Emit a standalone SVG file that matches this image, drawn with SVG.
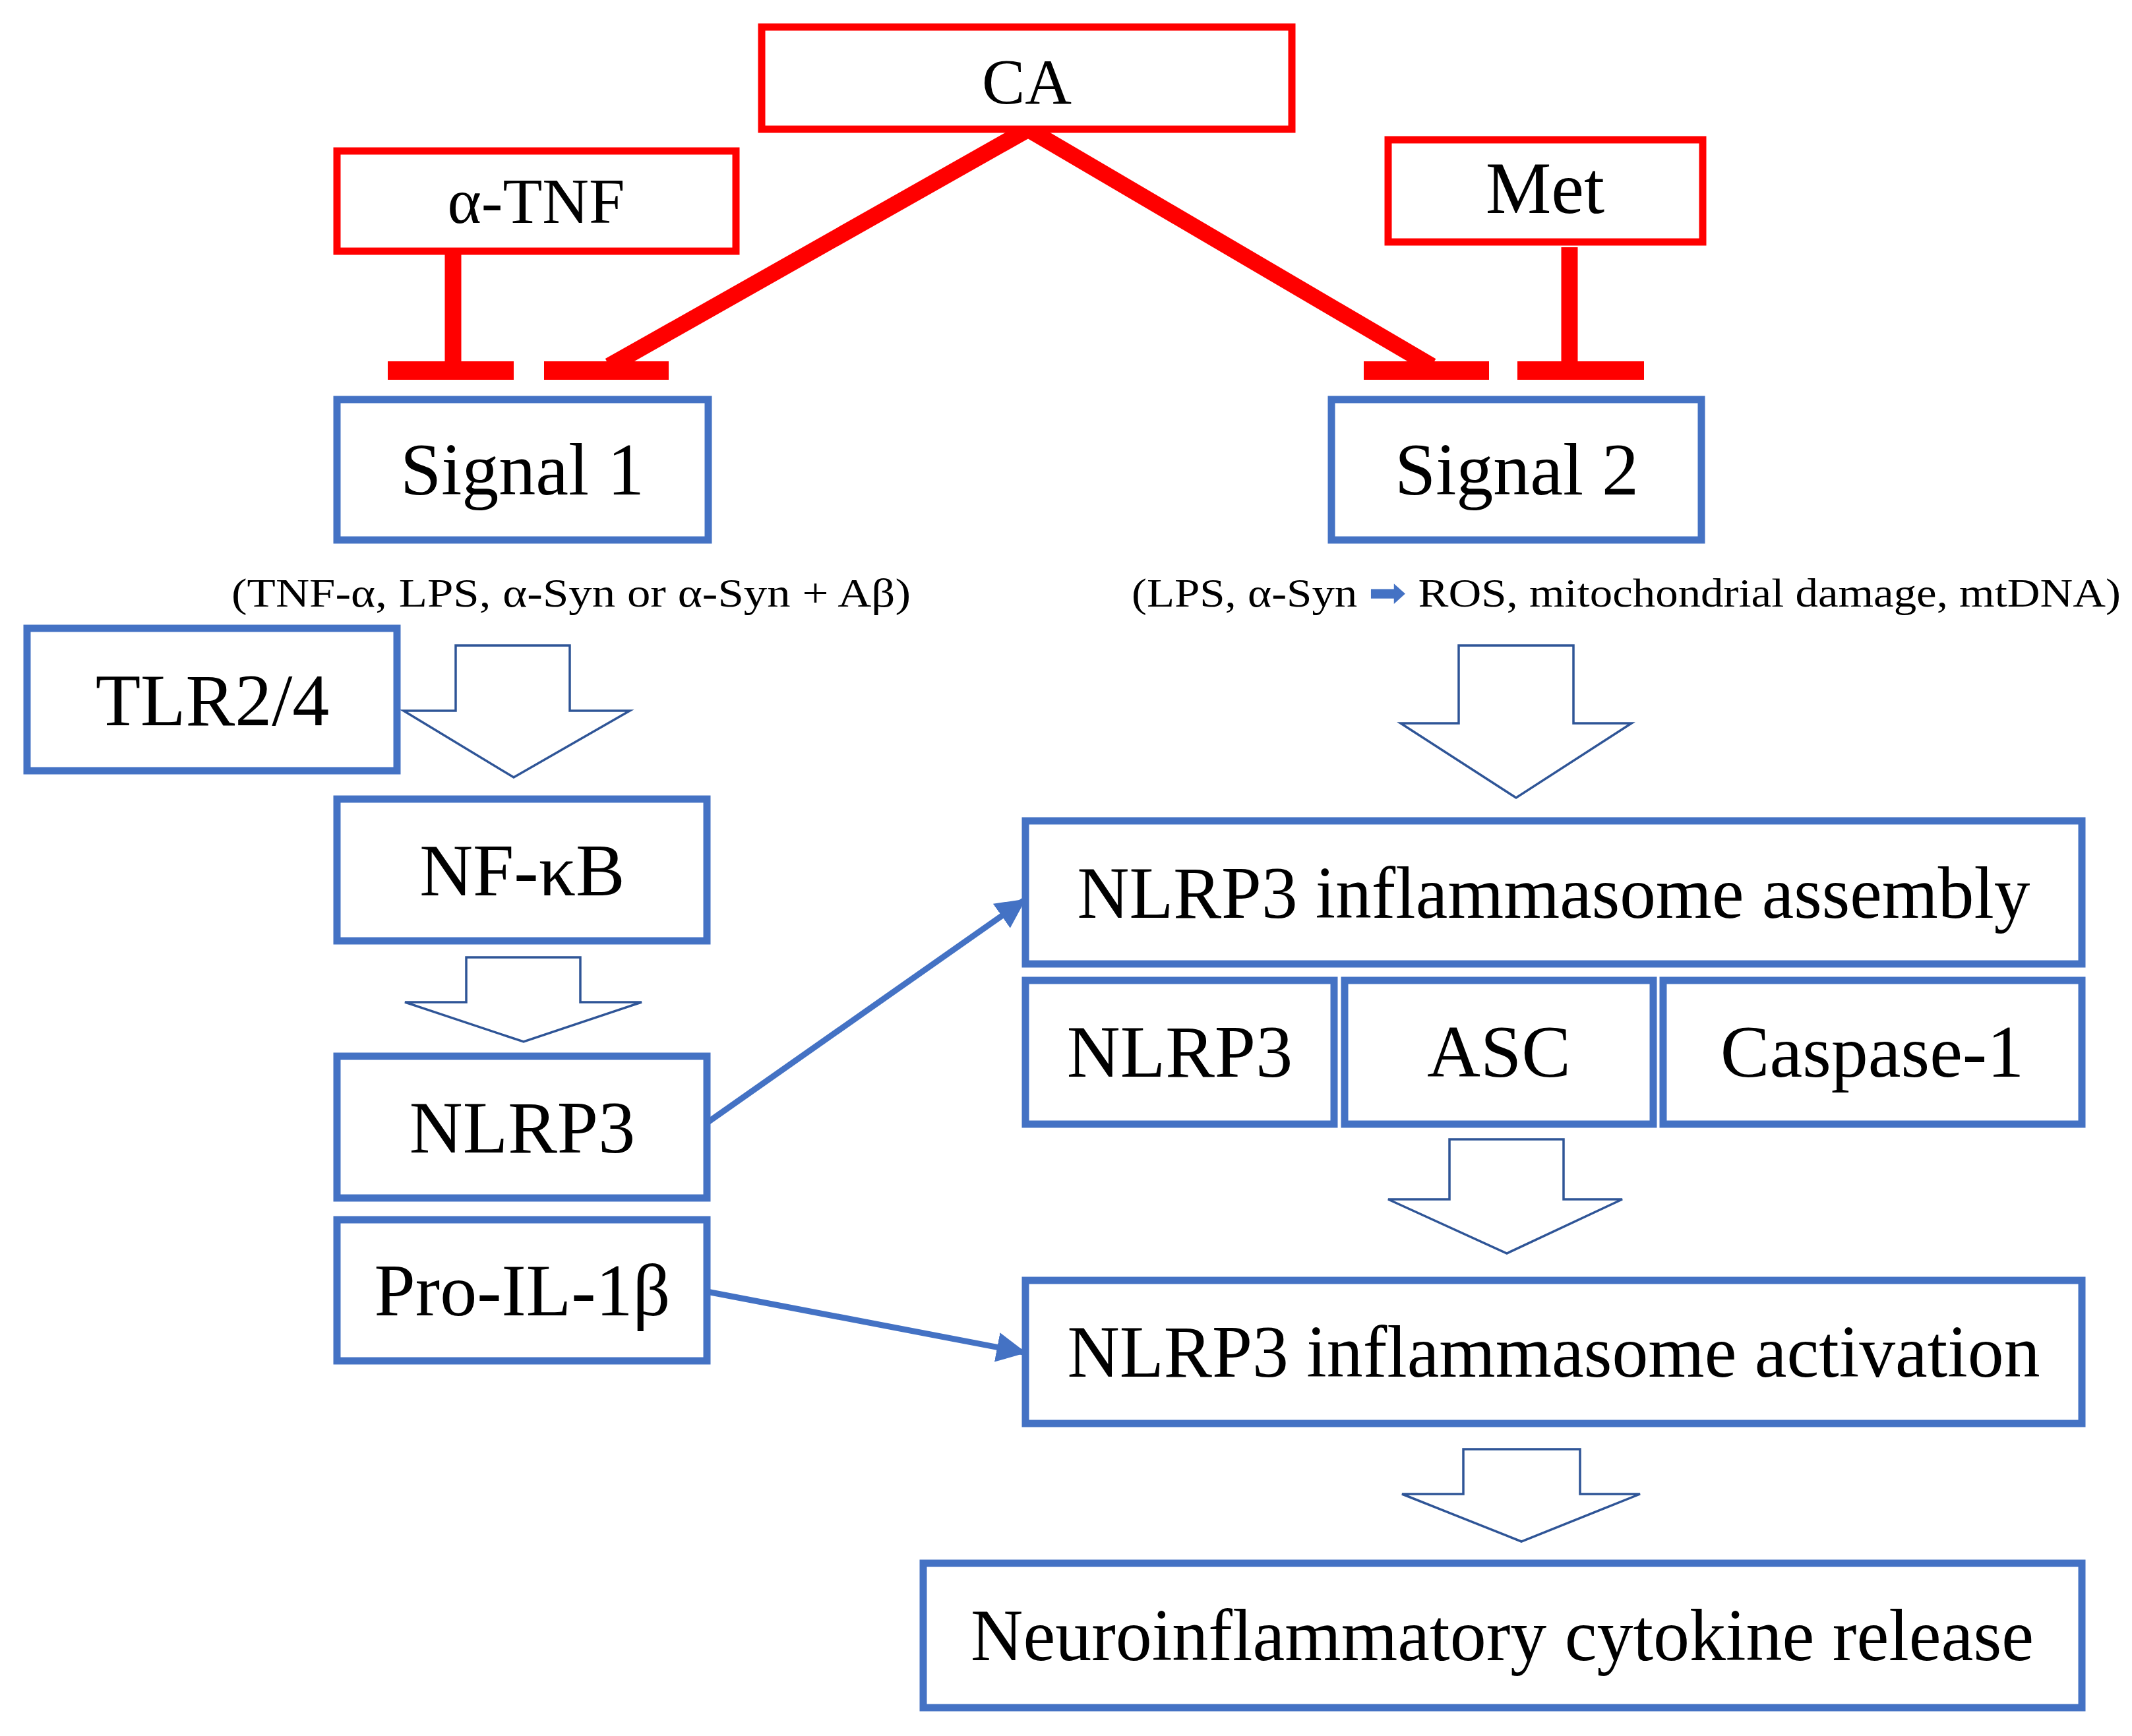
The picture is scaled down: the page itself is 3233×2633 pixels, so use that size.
<svg xmlns="http://www.w3.org/2000/svg" width="3233" height="2633" viewBox="0 0 3233 2633">
<style>
text{font-family:"Liberation Serif","Times New Roman",serif;fill:#000;text-anchor:middle}
.r{fill:#fff;stroke:#FF0000;stroke-width:11}
.b{fill:#fff;stroke:#4472C4;stroke-width:11}
.h{fill:#fff;stroke:#2F5597;stroke-width:3.5}
.big{font-size:112px}
.sub{font-size:62px}
</style>
<defs>
<marker id="ah" viewBox="0 0 10 10" refX="9" refY="5" markerWidth="5" markerHeight="5" orient="auto" markerUnits="strokeWidth"><path d="M0,0L10,5L0,10z" fill="#4472C4"/></marker>
</defs>
<rect width="3233" height="2633" fill="#fff"/>
<g id="connectors">
<g stroke="#FF0000" stroke-width="25" fill="none">
<line x1="687" y1="381" x2="687" y2="560"/>
<line x1="2380" y1="375" x2="2380" y2="560"/>
<line x1="1559" y1="196" x2="924" y2="555"/>
<line x1="1559" y1="196" x2="2171" y2="555"/>
</g>
<g fill="#FF0000">
<rect x="588" y="548" width="191" height="28"/>
<rect x="825" y="548" width="189" height="28"/>
<rect x="2068" y="548" width="190" height="28"/>
<rect x="2301" y="548" width="192" height="28"/>
</g>
<g stroke="#4472C4" stroke-width="9" fill="none" marker-end="url(#ah)">
<line x1="1072" y1="1703" x2="1552" y2="1366"/>
<line x1="1072" y1="1959" x2="1552" y2="2051"/>
</g>
<path class="h" d="M691,979H864V1078H955L779,1179L612,1078H691Z"/>
<path class="h" d="M707,1452H880V1520H973L794,1580L614,1520H707Z"/>
<path class="h" d="M2212,979H2386V1097H2474L2299,1210L2124,1097H2212Z"/>
<path class="h" d="M2198,1728H2371V1819H2460L2285,1901L2105,1819H2198Z"/>
<path class="h" d="M2219,2198H2396V2266H2487L2307,2338L2126,2266H2219Z"/>
</g>
<g id="ca"><rect class="r" x="1155" y="41" width="804" height="155"/><text x="1557" y="157" font-size="98">CA</text></g>
<g id="atnf"><rect class="r" x="511" y="229" width="605" height="152"/><text x="813" y="338" font-size="98">α-TNF</text></g>
<g id="met"><rect class="r" x="2105" y="212" width="477" height="155"/><text x="2343" y="323" font-size="112">Met</text></g>
<g id="signal1"><rect class="b" x="511" y="606" width="563" height="213"/><text class="big" x="792" y="750">Signal 1</text></g>
<g id="signal2"><rect class="b" x="2019" y="606" width="561" height="213"/><text class="big" x="2300" y="750">Signal 2</text></g>
<text class="sub" x="866" y="920" textLength="1030" lengthAdjust="spacingAndGlyphs">(TNF-α, LPS, α-Syn or α-Syn + Aβ)</text>
<g id="sub2"><text class="sub" x="2466" y="920" textLength="1500" lengthAdjust="spacingAndGlyphs">(LPS, α-Syn <tspan fill="#4472C4">➡</tspan> ROS, mitochondrial damage, mtDNA)</text></g>
<g id="tlr"><rect class="b" x="41" y="953" width="561" height="216"/><text class="big" x="322" y="1100">TLR2/4</text></g>
<g id="nfkb"><rect class="b" x="511" y="1212" width="561" height="215"/><text class="big" x="792" y="1358">NF-κB</text></g>
<g id="nlrp3l"><rect class="b" x="511" y="1602" width="561" height="215"/><text class="big" x="792" y="1748">NLRP3</text></g>
<g id="proil"><rect class="b" x="511" y="1850" width="561" height="214"/><text class="big" x="792" y="1995">Pro-IL-1β</text></g>
<g id="assembly"><rect class="b" x="1555" y="1245" width="1602" height="217"/><text class="big" x="2356" y="1392" textLength="1445" lengthAdjust="spacingAndGlyphs">NLRP3 inflammasome assembly</text></g>
<g id="nlrp3s"><rect class="b" x="1555" y="1487" width="468" height="218"/><text class="big" x="1789" y="1633">NLRP3</text></g>
<g id="asc"><rect class="b" x="2039" y="1487" width="468" height="218"/><text class="big" x="2273" y="1633">ASC</text></g>
<g id="casp"><rect class="b" x="2522" y="1487" width="635" height="218"/><text class="big" x="2839" y="1633">Caspase-1</text></g>
<g id="activation"><rect class="b" x="1555" y="1942" width="1602" height="217"/><text class="big" x="2356" y="2088" textLength="1475" lengthAdjust="spacingAndGlyphs">NLRP3 inflammasome activation</text></g>
<g id="cytokine"><rect class="b" x="1400" y="2371" width="1757" height="219"/><text class="big" x="2278" y="2518" textLength="1612" lengthAdjust="spacingAndGlyphs">Neuroinflammatory cytokine release</text></g>
</svg>
